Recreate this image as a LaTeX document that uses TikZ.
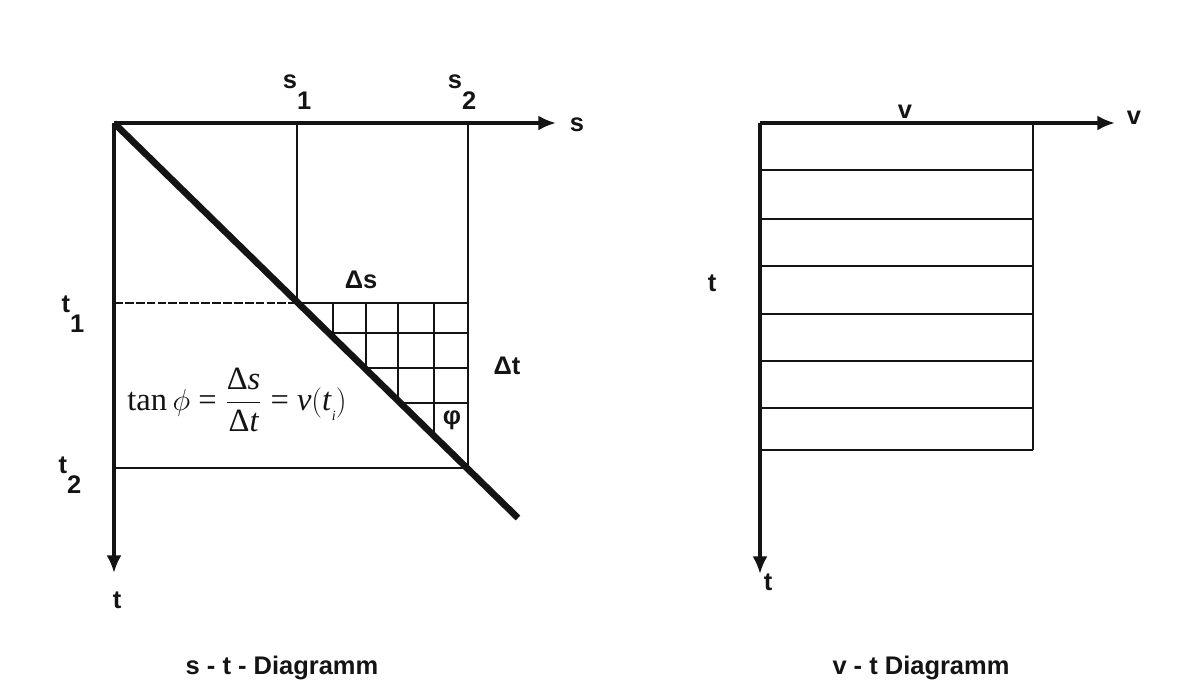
\documentclass[tikz,border=0pt]{standalone}
\usepackage{fontspec}
\setmainfont{Liberation Sans}
\newfontfamily\eqfont{Liberation Serif}
\usetikzlibrary{arrows.meta}
\definecolor{inkblack}{HTML}{141414}
\newcommand{\idx}[2]{#1\raisebox{-0.8em}{#2}}

\begin{document}
\begin{tikzpicture}[x=0.02cm,y=-0.02cm,
  lab/.style={font=\fontsize{14.5}{16}\selectfont\bfseries,inner sep=0pt,text=inkblack},
  formula/.style={font=\eqfont\fontsize{18.5}{22}\selectfont,inner sep=0pt,text=inkblack},
  axisline/.style={inkblack,line width=1.8pt,-{Latex[length=10pt,width=8.5pt]}},
  gridline/.style={inkblack,line width=1.5pt},
  slopeline/.style={inkblack,line width=3.8pt}]
  \useasboundingbox (0,0) rectangle (1181,697);
  \coordinate (O) at (114,123);
  \coordinate (sEnd) at (556,123);
  \coordinate (tEnd) at (114,573);
  \coordinate (s1) at (297,123);
  \coordinate (s2) at (468,123);
  \coordinate (t1) at (114,303);
  \coordinate (t2) at (114,468);
  \coordinate (P1) at (297,303);
  \coordinate (Q1) at (468,303);
  \coordinate (P2) at (468,468);
  \coordinate (slopeEnd) at (518,518);
  \begin{scope}
    \clip (P1) -- (Q1) -- (P2) -- cycle;
    \foreach \gx in {333,366,398,434}
      \draw[gridline] (\gx,303) -- (\gx,468);
    \foreach \gy in {333,368,403}
      \draw[gridline] (297,\gy) -- (468,\gy);
  \end{scope}
  \draw[gridline] (s1) -- (P1);
  \draw[gridline] (s2) -- (P2);
  \draw[gridline,dash pattern=on 5pt off 1.2pt] (t1) -- (P1);
  \draw[gridline] (P1) -- (Q1);
  \draw[gridline] (t2) -- (P2);
  \draw[axisline] (O) -- (sEnd);
  \draw[axisline] (O) -- (tEnd);
  \draw[slopeline] (O) -- (slopeEnd);
  \node[lab] (labS1) at (297,92) {\idx{s}{1}};
  \node[lab] (labS2) at (462,92) {\idx{s}{2}};
  \node[lab] (labS) at (577,125) {s};
  \node[lab] (labT) at (117,600) {t};
  \node[lab] (labT1) at (73,314) {\idx{t}{1}};
  \node[lab] (labT2) at (70,475) {\idx{t}{2}};
  \node[lab] (labDs) at (361,280) {Δs};
  \node[lab] (labDt) at (507,366) {Δt};
  \node[lab] (labPhi) at (452,420) {φ};
  \node[formula] (tanphi) at (237,400) {tan\,$\phi$ = $\displaystyle\frac{\mbox{Δ\itshape s}}{\mbox{Δ\itshape t}}$ = \textit{v}$\bigl($\textit{t}\raisebox{-0.3em}{\footnotesize\itshape i}$\bigr)$};
  \node[lab] (titleST) at (282,668) {s - t - Diagramm};
  \coordinate (V0) at (760,123);
  \coordinate (vEnd) at (1115,123);
  \coordinate (vtEnd) at (760,574);
  \coordinate (vTop) at (1033,123);
  \coordinate (vBot) at (1033,450);
  \foreach \hy in {170,219,266,314,361,408,450}
    \draw[gridline] (760,\hy) -- (1033,\hy);
  \draw[gridline] (vTop) -- (vBot);
  \draw[axisline] (V0) -- (vEnd);
  \draw[axisline] (V0) -- (vtEnd);
  \node[lab] (labVtop) at (905,112) {v};
  \node[lab] (labV) at (1134,118) {v};
  \node[lab] (labTv) at (712,283) {t};
  \node[lab] (labTvb) at (768,582) {t};
  \node[lab] (titleVT) at (921,668) {v - t Diagramm};
\end{tikzpicture}
\end{document}
